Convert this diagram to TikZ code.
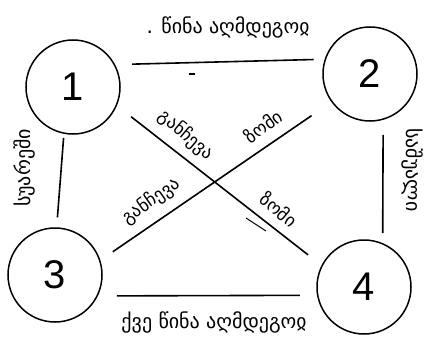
\documentclass[tikz,border=0pt]{standalone}
\usepackage{fontspec}
\newfontfamily\geo{DejaVu Sans}
\newfontfamily\hand{Liberation Sans}

\begin{document}
\begin{tikzpicture}[x=1pt, y=-1pt]
\tikzset{
  room/.style={draw, circle, line width=1.5pt, minimum size=94pt, inner sep=0pt, font=\hand\fontsize{40}{40}\selectfont},
  link/.style={line width=1.6pt},
  lbl/.style={inner sep=0pt, font=\geo\fontsize{20}{20}\selectfont}
}
\useasboundingbox (0,0) rectangle (433,342);

% Cercles
\node[room] (c1) at (73, 87) {1};
\node[room] (c2) at (370, 74) {2};
\node[room] (c3) at (55, 275) {3};
\node[room] (c4) at (364, 287) {4};

% Textes
\node[lbl] (top) at (228, 27) {. წინა აღმდეგოჲ};
\node[lbl] (bottom) at (214, 322) {ქვე წინა აღმდეგოჲ};
\node[lbl, rotate=90] (left) at (24, 168) {სუარეში};
\node[lbl, rotate=-90] (right) at (413, 170) {საშუალი};
\node[lbl, rotate=-40, font=\geo\fontsize{18}{18}\selectfont] (dtl) at (186, 135) {განჩევა};
\node[lbl, rotate=35, font=\geo\fontsize{18}{18}\selectfont] (dtr) at (263, 126) {ზომი};
\node[lbl, rotate=35, font=\geo\fontsize{18}{18}\selectfont] (dbl) at (151, 201) {განჩევა};
\node[lbl, rotate=-40, font=\geo\fontsize{18}{18}\selectfont] (dbr) at (279, 209) {ზომი};

% Lignes
\draw[link, shorten <=17pt, shorten >=11pt] (c1.28) -- (c2.162);
\draw[link, shorten <=19pt, shorten >=17pt] (c3.-26) -- (c4.190);
\draw[link, shorten <=4pt, shorten >=10pt] (c1.-101) -- (c3.88);
\draw[link, shorten <=15pt, shorten >=10pt] (c2.-74) -- (c4.67);
\draw[link, shorten <=18pt, shorten >=17pt] (c1.-23) -- (c4.153);
\draw[link, shorten <=15pt, shorten >=24pt] (c3.18) -- (c2.216);

% Traits
\draw[line width=1.2pt] (189, 74) -- (195, 74);
\draw[line width=1pt] (246, 218) -- (266, 231);

\end{tikzpicture}
\end{document}
